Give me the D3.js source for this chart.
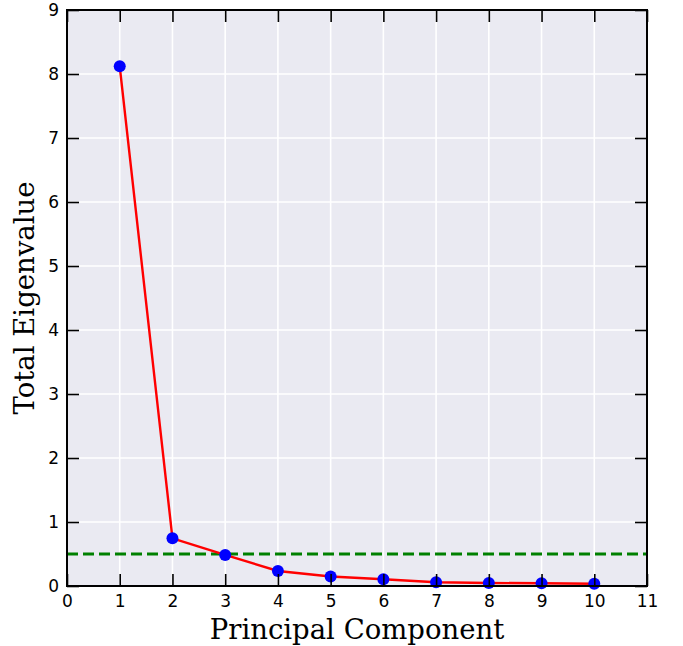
<!DOCTYPE html>
<html>
<head>
<meta charset="utf-8">
<script src="https://cdn.jsdelivr.net/npm/d3@7"></script>
<style>
  html, body { margin: 0; padding: 0; background: #fff; }
  svg { display: block; }
</style>
</head>
<body>
<svg id="chart" width="683" height="646"></svg>
<script>
// Scree plot: eigenvalue of each principal component
const components = [1, 2, 3, 4, 5, 6, 7, 8, 9, 10];
const eigenvalues = [8.12, 0.745, 0.485, 0.235, 0.148, 0.105, 0.058, 0.048, 0.042, 0.035];
const threshold = 0.5;
const xTicks = [0, 1, 2, 3, 4, 5, 6, 7, 8, 9, 10, 11];
const yTicks = [0, 1, 2, 3, 4, 5, 6, 7, 8, 9];
const xLabel = "Principal Component";
const yLabel = "Total Eigenvalue";

const svg = d3.select("#chart");
const margin = { left: 67, top: 10, right: 36, bottom: 60 };
const W = 683, H = 646;
const x0 = margin.left, x1 = W - margin.right;
const y0 = H - margin.bottom, y1 = margin.top;

const x = d3.scaleLinear().domain([0, 11]).range([x0, x1]);
const y = d3.scaleLinear().domain([0, 9]).range([y0, y1]);

// plot background
svg.append("rect")
  .attr("x", x0).attr("y", y1)
  .attr("width", x1 - x0).attr("height", y0 - y1)
  .attr("fill", "#EAEAF2");

// white grid
const grid = svg.append("g");
grid.selectAll("line.gx").data(xTicks).join("line")
  .attr("x1", d => x(d)).attr("x2", d => x(d))
  .attr("y1", y1).attr("y2", y0)
  .attr("stroke", "#fff").attr("stroke-width", 1.6);
grid.selectAll("line.gy").data(yTicks).join("line")
  .attr("y1", d => y(d)).attr("y2", d => y(d))
  .attr("x1", x0).attr("x2", x1)
  .attr("stroke", "#fff").attr("stroke-width", 1.6);

// threshold line
svg.append("line")
  .attr("x1", x0).attr("x2", x1)
  .attr("y1", y(threshold)).attr("y2", y(threshold))
  .attr("stroke", "#008000").attr("stroke-width", 3)
  .attr("stroke-dasharray", "11,5");

// eigenvalue curve
const line = d3.line().x((d, i) => x(components[i])).y(d => y(d));
svg.append("path")
  .datum(eigenvalues)
  .attr("d", line)
  .attr("fill", "none")
  .attr("stroke", "#ff0000")
  .attr("stroke-width", 2.4);

// markers
svg.selectAll("circle.pt").data(eigenvalues).join("circle")
  .attr("class", "pt")
  .attr("cx", (d, i) => x(components[i]))
  .attr("cy", d => y(d))
  .attr("r", 6)
  .attr("fill", "#0000ff");

// axes with inward ticks on all four sides
const tickFont = "DejaVu Sans, sans-serif";
const tickLen = 12;

function styleAxis(g) {
  g.select(".domain").remove();
  g.selectAll(".tick line").attr("stroke", "#000").attr("stroke-width", 1.6);
  g.selectAll(".tick text").attr("font-family", tickFont).attr("font-size", 17).attr("fill", "#000");
}

svg.append("g")
  .attr("transform", `translate(0,${y0})`)
  .call(d3.axisBottom(x).tickValues(xTicks).tickFormat(d3.format("d")).tickSizeInner(-tickLen).tickSizeOuter(0).tickPadding(9))
  .call(styleAxis);

svg.append("g")
  .attr("transform", `translate(0,${y1})`)
  .call(d3.axisTop(x).tickValues(xTicks).tickFormat("").tickSizeInner(-tickLen).tickSizeOuter(0))
  .call(styleAxis);

svg.append("g")
  .attr("transform", `translate(${x0},0)`)
  .call(d3.axisLeft(y).tickValues(yTicks).tickFormat(d3.format("d")).tickSizeInner(-tickLen).tickSizeOuter(0).tickPadding(8))
  .call(styleAxis);

svg.append("g")
  .attr("transform", `translate(${x1},0)`)
  .call(d3.axisRight(y).tickValues(yTicks).tickFormat("").tickSizeInner(-tickLen).tickSizeOuter(0))
  .call(styleAxis);

// frame
svg.append("rect")
  .attr("x", x0).attr("y", y1)
  .attr("width", x1 - x0).attr("height", y0 - y1)
  .attr("fill", "none").attr("stroke", "#000").attr("stroke-width", 2);

// axis titles
svg.append("text")
  .attr("x", (x0 + x1) / 2).attr("y", 639)
  .attr("text-anchor", "middle")
  .attr("font-family", "DejaVu Serif, serif")
  .attr("font-size", 27.5)
  .text(xLabel);

svg.append("text")
  .attr("transform", `translate(34,${(y0 + y1) / 2}) rotate(-90)`)
  .attr("text-anchor", "middle")
  .attr("font-family", "DejaVu Serif, serif")
  .attr("font-size", 27.5)
  .text(yLabel);
</script>
</body>
</html>
